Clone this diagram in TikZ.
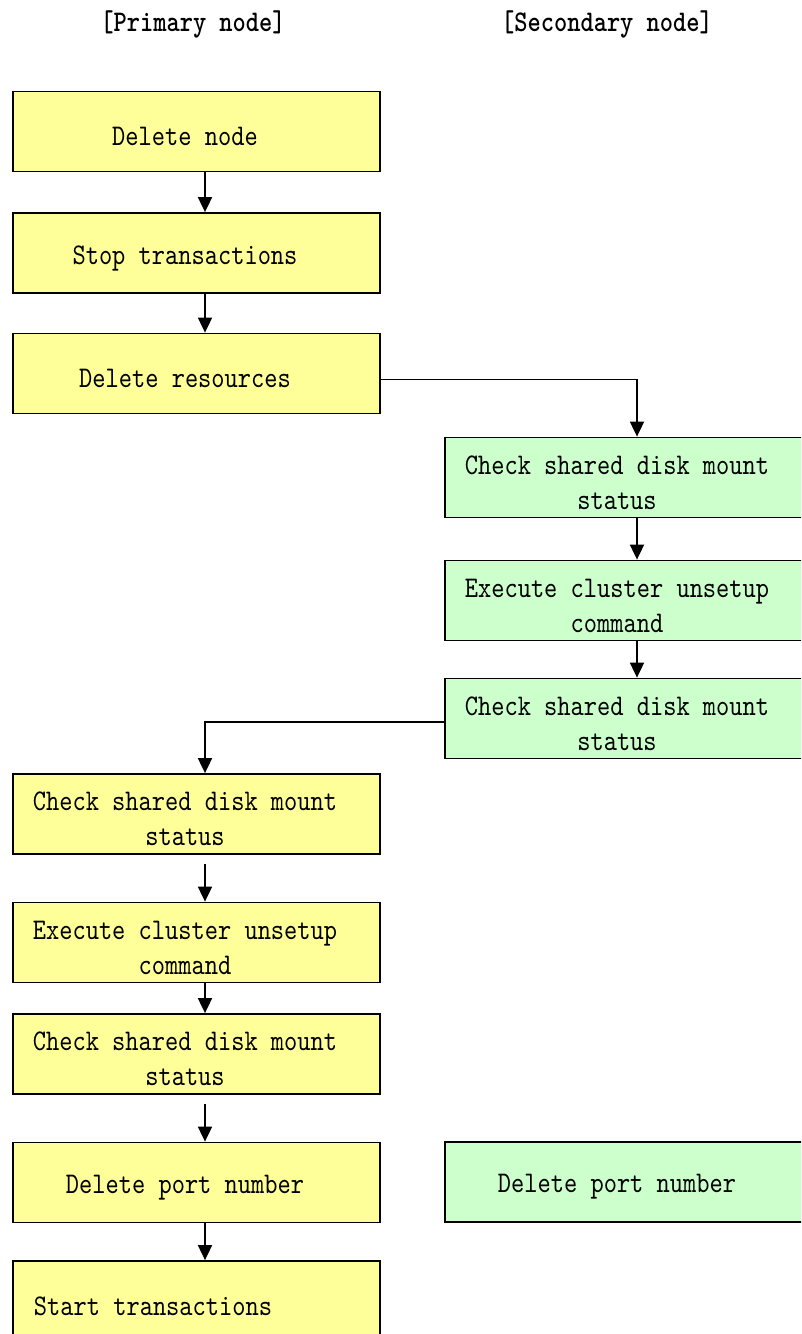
\documentclass[tikz,border=0pt]{standalone}
\usepackage{fontspec}
\usetikzlibrary{arrows.meta}
\newfontfamily\boxtt{lmmono10-regular.otf}[FakeStretch=0.84, BoldFont=lmmonolt10-bold.otf]
\newcommand\boxfont{\boxtt\fontsize{30}{35}\selectfont}
\definecolor{yelfill}{HTML}{FFFF99}
\definecolor{grnfill}{HTML}{CCFFCC}
\tikzset{
    stepbox/.style={rectangle, draw, line width=1.8pt, minimum width=367pt, minimum height=80pt, inner sep=0pt},
    prim/.style={stepbox, fill=yelfill},
    sec/.style={stepbox, fill=grnfill},
    txt/.style={align=center, font=\boxfont, inner sep=0pt, xshift=-11.5pt, yshift=-5pt},
    head/.style={font=\boxfont\bfseries, inner sep=0pt},
    arr/.style={-{Triangle[width=14pt,length=15pt]}, line width=1.8pt}
}
\begin{document}
\begin{tikzpicture}[x=1pt, y=-1pt]
    \useasboundingbox (0,0) rectangle (801,1334);
    \clip (0,0) rectangle (801,1334);
    \path node[head] (hp) at (193,24) {[Primary node]}
        node[head] (hs) at (607,24) {[Secondary node]};
    \path node[prim] (del) at (196.5,131.5) {}
        node[prim] (stop) at (196.5,253) {}
        node[prim] (res) at (196.5,373.5) {}
        node[sec] (chka) at (628.5,477.5) {}
        node[sec] (exea) at (628.5,600.5) {}
        node[sec] (chkb) at (628.5,718.5) {}
        node[prim] (chkc) at (196.5,814) {}
        node[prim] (exeb) at (196.5,942.5) {}
        node[prim] (chkd) at (196.5,1054) {}
        node[prim] (portp) at (196.5,1182.5) {}
        node[sec] (ports) at (628.5,1182) {}
        node[prim] (start) at (196.5,1301) {};
    \path node[txt] (delt) at (del) {Delete node}
        node[txt] (stopt) at (stop) {Stop transactions}
        node[txt] (rest) at (res) {Delete resources}
        node[txt] (chkat) at (chka) {Check shared disk mount\\status}
        node[txt] (exeat) at (exea) {Execute cluster unsetup\\command}
        node[txt] (chkbt) at (chkb) {Check shared disk mount\\status}
        node[txt] (chkct) at (chkc) {Check shared disk mount\\status}
        node[txt] (exebt) at (exeb) {Execute cluster unsetup\\command}
        node[txt] (chkdt) at (chkd) {Check shared disk mount\\status}
        node[txt] (portpt) at (portp) {Delete port number}
        node[txt] (portst) at (ports) {Delete port number}
        node[txt, xshift=-32pt] (startt) at (start) {Start transactions};
    \draw[arr] ([xshift=8.5pt]del.south) -- ([xshift=8.5pt]stop.north);
    \draw[arr] ([xshift=8.5pt]stop.south) -- ([xshift=8.5pt]res.north);
    \draw[arr] ([yshift=-6pt]res.east) -| ([xshift=8.5pt]chka.north);
    \draw[arr] ([xshift=8.5pt]chka.south) -- ([xshift=8.5pt]exea.north);
    \draw[arr] ([xshift=8.5pt]exea.south) -- ([xshift=8.5pt]chkb.north);
    \draw[arr] ([yshift=-3.5pt]chkb.west) -| ([xshift=8.5pt]chkc.north);
    \draw[arr] ([xshift=8.5pt,yshift=-9pt]chkc.south) -- ([xshift=8.5pt]exeb.north);
    \draw[arr] ([xshift=8.5pt]exeb.south) -- ([xshift=8.5pt]chkd.north);
    \draw[arr] ([xshift=8.5pt,yshift=-9pt]chkd.south) -- ([xshift=8.5pt]portp.north);
    \draw[arr] ([xshift=8.5pt]portp.south) -- ([xshift=8.5pt]start.north);
\end{tikzpicture}
\end{document}
